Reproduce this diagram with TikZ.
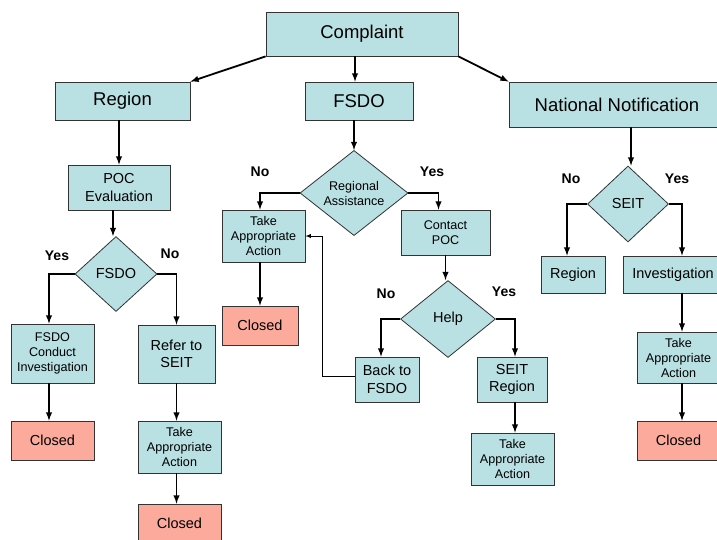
\documentclass[tikz,border=0pt]{standalone}
\usepackage{fontspec}
\setmainfont{Liberation Sans}
\usetikzlibrary{shapes.geometric}
\definecolor{boxcyan}{HTML}{B9E0E3}
\definecolor{closedred}{HTML}{FCAA9B}
\tikzset{
  box/.style = {draw=black!80, line width=0.8pt, fill=boxcyan, align=center, inner sep=0pt},
  closedbox/.style = {box, fill=closedred, font=\fontsize{14.5}{17.5}\selectfont},
  decision/.style = {diamond, draw=black!80, line width=0.8pt, fill=boxcyan, align=center, inner sep=0pt},
  big/.style = {font=\fontsize{18.5}{22}\selectfont},
  mid/.style = {font=\fontsize{14.5}{17.5}\selectfont},
  small/.style = {font=\fontsize{12.6}{15}\selectfont},
  answer/.style = {font=\bfseries\fontsize{14}{16}\selectfont},
  arr/.style = {-latex, line width=1.8pt},
  back/.style = {-latex, line width=0.9pt}
}
\begin{document}
\begin{tikzpicture}[x=1pt, y=-1pt]
\useasboundingbox (0,0) rectangle (717,539);
\clip (0,0) rectangle (717,539);
\fill[white] (0,0) rectangle (717,539);
% top row
\node [box, big, minimum width=192pt, minimum height=44pt] (complaint) at (362,34) {Complaint};
\node [box, big, minimum width=135pt, minimum height=38pt] (region) at (122.5,101) {Region};
\node [box, big, minimum width=108pt, minimum height=38pt] (fsdo) at (359,101) {FSDO};
\node [box, big, minimum width=216pt, minimum height=45pt] (natnot) at (617,104.5) {National Notification};
% region branch
\node [box, mid, minimum width=102pt, minimum height=45pt] (poceval) at (119,187.5) {POC\\Evaluation};
\node [decision, mid, minimum width=82pt, minimum height=75pt] (fsdodec) at (116,274) {FSDO};
\node [box, small, minimum width=83pt, minimum height=59pt] (conduct) at (52.5,353.5) {FSDO\\Conduct\\Investigation};
\node [closedbox, minimum width=83pt, minimum height=39pt] (closeda) at (52.5,440.5) {Closed};
\node [box, mid, minimum width=77pt, minimum height=58pt] (refer) at (176.5,354) {Refer to\\SEIT};
\node [box, small, minimum width=83pt, minimum height=52pt] (takea) at (179.5,447) {Take\\Appropriate\\Action};
\node [closedbox, minimum width=83pt, minimum height=39pt] (closedb) at (179.5,523.5) {Closed};
% fsdo branch
\node [decision, small, minimum width=108pt, minimum height=83pt] (regdec) at (354,193) {Regional\\Assistance};
\node [box, small, minimum width=83pt, minimum height=52pt] (takeb) at (263.5,236) {Take\\Appropriate\\Action};
\node [closedbox, minimum width=76pt, minimum height=39pt] (closedc) at (260,325.5) {Closed};
\node [box, small, minimum width=89pt, minimum height=45pt] (contact) at (445.5,232.5) {Contact\\POC};
\node [decision, mid, minimum width=95pt, minimum height=77pt] (helpdec) at (448,319) {Help};
\node [box, mid, minimum width=64pt, minimum height=45pt] (backfsdo) at (387,379.5) {Back to\\FSDO};
\node [box, mid, minimum width=70pt, minimum height=45pt] (seitreg) at (512,379.5) {SEIT\\Region};
\node [box, small, minimum width=83pt, minimum height=52pt] (takec) at (512.5,459) {Take\\Appropriate\\Action};
% national branch
\node [decision, mid, minimum width=81pt, minimum height=76pt] (seitdec) at (628,204) {SEIT};
\node [box, mid, minimum width=64pt, minimum height=37pt] (regionr) at (573,274.5) {Region};
\node [box, mid, minimum width=100pt, minimum height=37pt] (invest) at (673,274.5) {Investigation};
\node [box, small, minimum width=83pt, minimum height=51pt] (taked) at (678.5,357.5) {Take\\Appropriate\\Action};
\node [closedbox, minimum width=83pt, minimum height=39pt] (closedd) at (678.5,440.5) {Closed};
% answers
\node [answer] (yesa) at (57,256) {Yes};
\node [answer] (noa) at (170,254) {No};
\node [answer] (nob) at (260,172) {No};
\node [answer] (yesb) at (432,172) {Yes};
\node [answer] (noc) at (386,294) {No};
\node [answer] (yesc) at (504,292) {Yes};
\node [answer] (nod) at (571,179) {No};
\node [answer] (yesd) at (677,179) {Yes};
% connectors
\draw [arr] (complaint.south west) -- (region.north east);
\draw [arr] ([xshift=-4pt]fsdo.north |- complaint.south) -- ([xshift=-4pt]fsdo.north);
\draw [arr] (complaint.south east) -- (natnot.north west);
\draw [arr] (region.south -| poceval.north) -- (poceval.north);
\draw [arr] ([xshift=-3pt]poceval.south -| fsdodec.north) -- ([xshift=-3pt]fsdodec.north);
\draw [arr] (fsdodec.west) -| ([xshift=-3.5pt]conduct.north);
\draw [arr] (fsdodec.east) -| (refer.north);
\draw [arr] ([xshift=-3.5pt]conduct.south) -- ([xshift=-3.5pt]closeda.north);
\draw [arr] (refer.south) -- (refer.south |- takea.north);
\draw [arr] (takea.south -| refer.south) -- (refer.south |- closedb.north);
\draw [arr] (regdec.north |- fsdo.south) -- (regdec.north);
\draw [arr] (regdec.west) -| ([xshift=-3.5pt]takeb.north);
\draw [arr] (takeb.south -| closedc.north) -- (closedc.north);
\draw [arr] (regdec.east) -| ([xshift=-7pt]contact.north);
\draw [arr] (contact.south) -- (contact.south |- helpdec.north);
\draw [arr] (helpdec.west) -| ([xshift=-6pt]backfsdo.north);
\draw [arr] (helpdec.east) -| ([xshift=3pt]seitreg.north);
\draw [arr] ([xshift=3pt]seitreg.south) -- ([xshift=3pt]seitreg.south |- takec.north);
\draw [back] ([yshift=3.5pt]backfsdo.west) -- ++(-32,0) |- (takeb.east);
\draw [arr] ([xshift=3pt]natnot.south -| seitdec.north) -- ([xshift=3pt]seitdec.north |- seitdec.north);
\draw [arr] (seitdec.west) -| ([xshift=-6pt]regionr.north);
\draw [arr] (seitdec.east) -| ([xshift=9pt]invest.north);
\draw [arr] ([xshift=3.5pt]taked.north |- invest.south) -- ([xshift=3.5pt]taked.north);
\draw [arr] ([xshift=3.5pt]taked.south) -- ([xshift=3.5pt]closedd.north);
\end{tikzpicture}
\end{document}
